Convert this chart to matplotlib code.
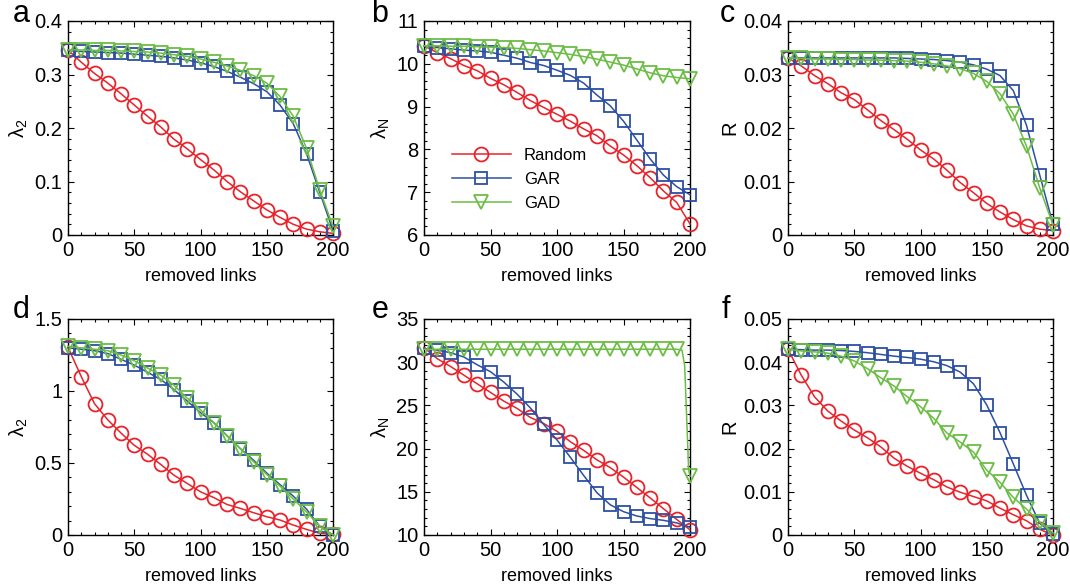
import numpy as np
import matplotlib
matplotlib.use("Agg")
import matplotlib.pyplot as plt
from matplotlib.ticker import MultipleLocator, AutoMinorLocator

plt.rcParams['font.family'] = ['Liberation Sans', 'DejaVu Sans']
plt.rcParams['mathtext.fontset'] = 'custom'
plt.rcParams['mathtext.rm'] = 'Liberation Sans'
plt.rcParams['mathtext.it'] = 'Liberation Sans'

removed = list(range(0, 201, 10))

# Panel a: lambda_2
a_random = [0.346, 0.323, 0.302, 0.284, 0.264, 0.243, 0.222, 0.202, 0.179, 0.161, 0.141,
            0.122, 0.100, 0.081, 0.064, 0.047, 0.033, 0.020, 0.011, 0.006, 0.003]
a_gar = [0.345, 0.343, 0.342, 0.341, 0.340, 0.338, 0.336, 0.334, 0.331, 0.327, 0.322,
         0.315, 0.306, 0.295, 0.283, 0.268, 0.243, 0.208, 0.152, 0.080, 0.008]
a_gad = [0.346, 0.346, 0.345, 0.345, 0.344, 0.343, 0.342, 0.340, 0.337, 0.334, 0.329,
         0.323, 0.316, 0.308, 0.298, 0.284, 0.259, 0.222, 0.162, 0.084, 0.016]

# Panel b: lambda_N
b_random = [10.42, 10.26, 10.12, 9.96, 9.84, 9.66, 9.51, 9.33, 9.14, 8.98, 8.82,
            8.66, 8.48, 8.32, 8.08, 7.87, 7.62, 7.34, 7.03, 6.76, 6.26]
b_gar = [10.42, 10.38, 10.35, 10.32, 10.30, 10.27, 10.20, 10.13, 10.03, 9.96, 9.85,
         9.73, 9.55, 9.27, 9.02, 8.66, 8.22, 7.78, 7.40, 7.13, 6.94]
b_gad = [10.42, 10.42, 10.41, 10.41, 10.40, 10.39, 10.38, 10.36, 10.33, 10.30, 10.26,
         10.22, 10.17, 10.11, 10.04, 9.97, 9.88, 9.79, 9.72, 9.68, 9.65]

# Panel c: R
c_random = [0.0331, 0.0316, 0.0298, 0.0283, 0.0266, 0.0253, 0.0234, 0.0214, 0.0197, 0.0179, 0.0159,
            0.0142, 0.0121, 0.0098, 0.0079, 0.0059, 0.0043, 0.0029, 0.0017, 0.0011, 0.0008]
c_gar = [0.0331, 0.0331, 0.0331, 0.0331, 0.0331, 0.0331, 0.0331, 0.0331, 0.0331, 0.0330, 0.0329,
         0.0328, 0.0326, 0.0323, 0.0318, 0.0310, 0.0298, 0.0270, 0.0205, 0.0112, 0.0020]
c_gad = [0.0331, 0.0330, 0.0329, 0.0329, 0.0328, 0.0328, 0.0327, 0.0327, 0.0326, 0.0325, 0.0323,
         0.0320, 0.0316, 0.0311, 0.0302, 0.0287, 0.0264, 0.0226, 0.0166, 0.0088, 0.0019]

# Panel d: lambda_2
d_random = [1.304, 1.10, 0.912, 0.80, 0.708, 0.623, 0.561, 0.49, 0.415, 0.358, 0.30,
            0.26, 0.212, 0.185, 0.155, 0.127, 0.104, 0.069, 0.039, 0.012, 0.005]
d_gar = [1.30, 1.29, 1.28, 1.26, 1.22, 1.18, 1.13, 1.08, 1.01, 0.93, 0.85,
         0.78, 0.69, 0.60, 0.52, 0.43, 0.35, 0.27, 0.18, 0.06, 0.00]
d_gad = [1.31, 1.30, 1.29, 1.28, 1.25, 1.21, 1.16, 1.11, 1.04, 0.95, 0.87,
         0.78, 0.69, 0.60, 0.51, 0.42, 0.34, 0.25, 0.16, 0.06, 0.00]

# Panel e: lambda_N
e_random = [31.7, 30.4, 29.5, 28.5, 27.5, 26.5, 25.5, 24.65, 23.6, 22.9, 22.0,
            20.8, 19.8, 18.7, 17.8, 16.7, 15.5, 14.3, 13.05, 11.8, 10.6]
e_gar = [31.6, 31.4, 31.1, 30.6, 29.7, 28.9, 27.7, 26.3, 24.7, 22.8, 21.0,
         19.0, 16.9, 14.9, 13.5, 12.7, 12.2, 11.9, 11.7, 11.4, 10.9]
e_gad_x = list(range(0, 191, 10)) + [194, 196, 199, 200]
e_gad = [31.5, 31.5, 31.5, 31.5, 31.5, 31.5, 31.5, 31.5, 31.5, 31.5, 31.5,
         31.5, 31.5, 31.5, 31.5, 31.5, 31.5, 31.5, 31.5, 31.5, 31.4, 29.6, 17.5, 16.8]

# Panel f: R
f_random = [0.0430, 0.0370, 0.0320, 0.0287, 0.0264, 0.0243, 0.0225, 0.0204, 0.0178, 0.0159, 0.0143,
            0.0128, 0.0111, 0.0099, 0.0089, 0.0079, 0.0062, 0.0047, 0.0033, 0.0013, 0.0000]
f_gar = [0.0430, 0.0429, 0.0428, 0.0428, 0.0427, 0.0425, 0.0422, 0.0418, 0.0414, 0.0411, 0.0407,
         0.0401, 0.0392, 0.0377, 0.0350, 0.0301, 0.0237, 0.0165, 0.0092, 0.0027, 0.0003]
f_gad = [0.0430, 0.0426, 0.0424, 0.0421, 0.0414, 0.0403, 0.0385, 0.0364, 0.0345, 0.0320, 0.0297,
         0.0270, 0.0236, 0.0215, 0.0192, 0.0150, 0.0122, 0.0087, 0.0060, 0.0030, 0.0005]

series_names = ['Random', 'GAR', 'GAD']
panel_letters = ['a', 'b', 'c', 'd', 'e', 'f']
ylabels = [r'$\lambda_2$', r'$\lambda_N$', 'R', r'$\lambda_2$', r'$\lambda_N$', 'R']
ylims = [(0, 0.4), (6, 11), (0, 0.04), (0, 1.5), (10, 35), (0, 0.05)]
yticks = [[0, 0.1, 0.2, 0.3, 0.4], [6, 7, 8, 9, 10, 11], [0, 0.01, 0.02, 0.03, 0.04],
          [0, 0.5, 1, 1.5], [10, 15, 20, 25, 30, 35], [0, 0.01, 0.02, 0.03, 0.04, 0.05]]
yticklabels = [['0', '0.1', '0.2', '0.3', '0.4'], ['6', '7', '8', '9', '10', '11'],
               ['0', '0.01', '0.02', '0.03', '0.04'], ['0', '0.5', '1', '1.5'],
               ['10', '15', '20', '25', '30', '35'], ['0', '0.01', '0.02', '0.03', '0.04', '0.05']]
xticks = [0, 50, 100, 150, 200]

RED = '#e8232b'
BLUE = '#2d4fa3'
GREEN = '#6cbd45'

data = [
    [(removed, a_random), (removed, a_gar), (removed, a_gad)],
    [(removed, b_random), (removed, b_gar), (removed, b_gad)],
    [(removed, c_random), (removed, c_gar), (removed, c_gad)],
    [(removed, d_random), (removed, d_gar), (removed, d_gad)],
    [(removed, e_random), (removed, e_gar), (e_gad_x, e_gad)],
    [(removed, f_random), (removed, f_gar), (removed, f_gad)],
]

W, H = 1070, 587
fig = plt.figure(figsize=(W / 100, H / 100), dpi=100)

# axes boxes in pixels: left, right, top, bottom
boxes = [
    (68, 333, 21, 235), (424, 690, 21, 235), (788, 1053, 21, 235),
    (68, 333, 319, 535), (424, 690, 319, 535), (788, 1053, 319, 535),
]
# panel letter anchor positions in pixels (center x, center y)
letter_pos = [(21, 14), (380, 14), (727, 14), (21, 310), (380, 310), (726, 310)]

styles = [
    dict(color=RED, marker='o', markersize=10),
    dict(color=BLUE, marker='s', markersize=8.5),
    dict(color=GREEN, marker='v', markersize=10),
]

for i, (l, r, t, b) in enumerate(boxes):
    ax = fig.add_axes([l / W, 1 - b / H, (r - l) / W, (b - t) / H])
    handles = []
    for j, (xs, ys) in enumerate(data[i]):
        st = styles[j]
        if i == 4 and j == 2:
            mev = list(range(0, 20)) + [len(xs) - 1]
        else:
            mev = None
        h, = ax.plot(xs, ys, color=st['color'], marker=st['marker'],
                     markersize=st['markersize'], markerfacecolor='none',
                     markeredgecolor=st['color'], markeredgewidth=1.3,
                     linewidth=1.1, markevery=mev, clip_on=False, zorder=3 + j)
        handles.append(h)
    ax.set_xlim(0, 200)
    ax.set_ylim(*ylims[i])
    ax.set_xticks(xticks)
    ax.set_xticklabels([str(x) for x in xticks])
    ax.set_yticks(yticks[i])
    ax.set_yticklabels(yticklabels[i])
    ax.xaxis.set_minor_locator(MultipleLocator(10))
    ax.yaxis.set_minor_locator(AutoMinorLocator(5))
    ax.tick_params(which='both', direction='in', top=True, right=True,
                   labelsize=14.5, width=0.8, pad=4)
    ax.tick_params(which='major', length=4)
    ax.tick_params(which='minor', length=2)
    for sp in ax.spines.values():
        sp.set_linewidth(1.0)
    ax.set_xlabel('removed links', fontsize=13, labelpad=6)
    ax.set_ylabel(ylabels[i], fontsize=14.5, labelpad=3)
    lx, ly = letter_pos[i]
    fig.text(lx / W, 1 - ly / H, panel_letters[i], fontsize=22, ha='center', va='center')
    if i == 1:
        ax.legend(handles, series_names, loc='center', bbox_to_anchor=(0.36, 0.26),
                  frameon=False, fontsize=12, handlelength=3.5, labelspacing=0.55,
                  handletextpad=0.8)

fig.savefig('out.png', dpi=100)
